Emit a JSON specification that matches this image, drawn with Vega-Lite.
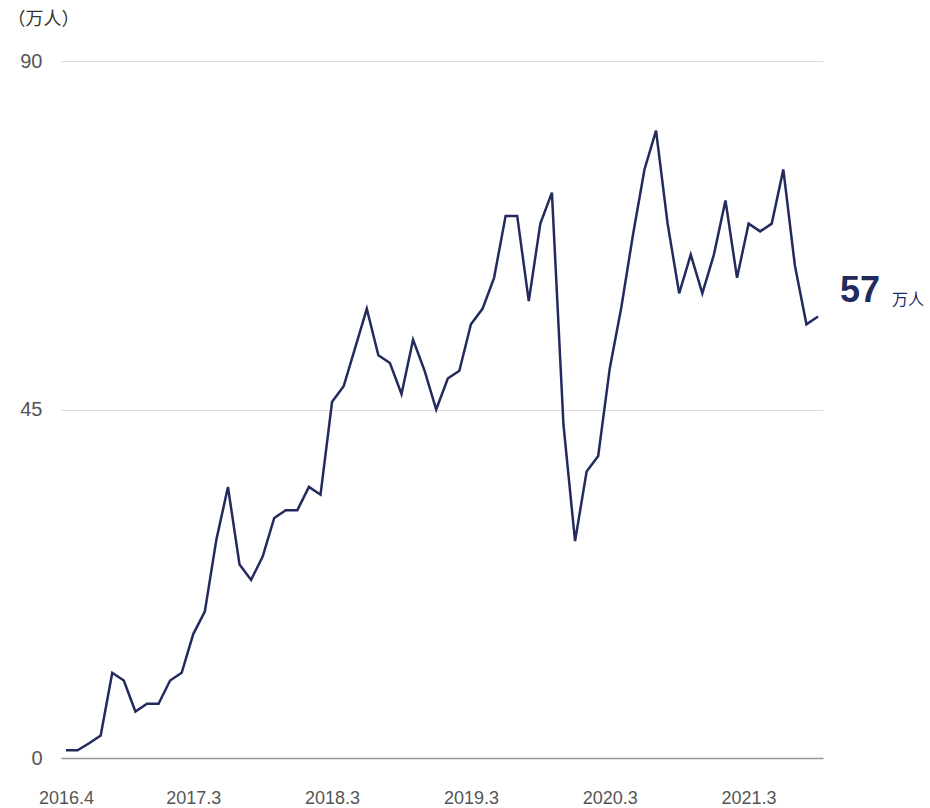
{
  "$schema": "https://vega.github.io/schema/vega-lite/v6.json",
  "width": 762,
  "height": 697,
  "autosize": "none",
  "padding": {"left": 61, "top": 61, "right": 107, "bottom": 50},
  "background": "white",
  "data": {
    "values": [
      {"month": "2016.4", "value": 1},
      {"month": "2016.5", "value": 1},
      {"month": "2016.6", "value": 1.9},
      {"month": "2016.7", "value": 2.9},
      {"month": "2016.8", "value": 11},
      {"month": "2016.9", "value": 10},
      {"month": "2016.10", "value": 6},
      {"month": "2016.11", "value": 7},
      {"month": "2016.12", "value": 7},
      {"month": "2017.1", "value": 10},
      {"month": "2017.2", "value": 11},
      {"month": "2017.3", "value": 16},
      {"month": "2017.4", "value": 18.9},
      {"month": "2017.5", "value": 28.2},
      {"month": "2017.6", "value": 35},
      {"month": "2017.7", "value": 25},
      {"month": "2017.8", "value": 23},
      {"month": "2017.9", "value": 26},
      {"month": "2017.10", "value": 31},
      {"month": "2017.11", "value": 32},
      {"month": "2017.12", "value": 32},
      {"month": "2018.1", "value": 35},
      {"month": "2018.2", "value": 34},
      {"month": "2018.3", "value": 46},
      {"month": "2018.4", "value": 48},
      {"month": "2018.5", "value": 53},
      {"month": "2018.6", "value": 58},
      {"month": "2018.7", "value": 52},
      {"month": "2018.8", "value": 51},
      {"month": "2018.9", "value": 47},
      {"month": "2018.10", "value": 54},
      {"month": "2018.11", "value": 50},
      {"month": "2018.12", "value": 45},
      {"month": "2019.1", "value": 49},
      {"month": "2019.2", "value": 50},
      {"month": "2019.3", "value": 56},
      {"month": "2019.4", "value": 58},
      {"month": "2019.5", "value": 62},
      {"month": "2019.6", "value": 70},
      {"month": "2019.7", "value": 70},
      {"month": "2019.8", "value": 59},
      {"month": "2019.9", "value": 69},
      {"month": "2019.10", "value": 73},
      {"month": "2019.11", "value": 43},
      {"month": "2019.12", "value": 28},
      {"month": "2020.1", "value": 37},
      {"month": "2020.2", "value": 39},
      {"month": "2020.3", "value": 50.3},
      {"month": "2020.4", "value": 58.2},
      {"month": "2020.5", "value": 67.5},
      {"month": "2020.6", "value": 76},
      {"month": "2020.7", "value": 81},
      {"month": "2020.8", "value": 69},
      {"month": "2020.9", "value": 60},
      {"month": "2020.10", "value": 65},
      {"month": "2020.11", "value": 60},
      {"month": "2020.12", "value": 65},
      {"month": "2021.1", "value": 72},
      {"month": "2021.2", "value": 62},
      {"month": "2021.3", "value": 69},
      {"month": "2021.4", "value": 68},
      {"month": "2021.5", "value": 69},
      {"month": "2021.6", "value": 76},
      {"month": "2021.7", "value": 63.6},
      {"month": "2021.8", "value": 56},
      {"month": "2021.9", "value": 57, "last": true}
    ]
  },
  "encoding": {
    "x": {
      "field": "month",
      "type": "ordinal",
      "sort": null,
      "scale": {"type": "point", "padding": 0.43},
      "axis": {
        "title": null,
        "values": ["2016.4", "2017.3", "2018.3", "2019.3", "2020.3", "2021.3"],
        "labelAngle": 0,
        "labelFontSize": 18,
        "labelColor": "#555555",
        "labelPadding": 31,
        "ticks": false,
        "domain": true,
        "domainColor": "#999999",
        "domainWidth": 1.5,
        "grid": false
      }
    },
    "y": {
      "field": "value",
      "type": "quantitative",
      "scale": {"domain": [0, 90], "nice": false},
      "axis": {
        "title": "（万人）",
        "titleAngle": 0,
        "titleAlign": "left",
        "titleBaseline": "middle",
        "titleX": -54,
        "titleY": -42,
        "titleFontSize": 18,
        "titleFontWeight": "normal",
        "titleColor": "#333333",
        "values": [0, 45, 90],
        "labelFontSize": 20,
        "labelColor": "#555555",
        "labelPadding": 19,
        "ticks": false,
        "domain": false,
        "grid": true,
        "gridColor": "#dddddd",
        "gridWidth": 1
      }
    }
  },
  "layer": [
    {
      "mark": {"type": "line", "color": "#222a5e", "strokeWidth": 2.5, "strokeJoin": "miter"}
    },
    {
      "transform": [{"filter": "datum.last"}],
      "mark": {
        "type": "text",
        "align": "left",
        "baseline": "alphabetic",
        "dx": 22,
        "dy": -15,
        "fontSize": 36,
        "fontWeight": "bold",
        "color": "#222a5e"
      },
      "encoding": {"text": {"field": "value", "type": "quantitative"}}
    },
    {
      "transform": [{"filter": "datum.last"}],
      "mark": {
        "type": "text",
        "align": "left",
        "baseline": "alphabetic",
        "dx": 74,
        "dy": -12,
        "fontSize": 16,
        "color": "#222a5e",
        "text": "万人"
      }
    }
  ],
  "config": {
    "view": {"stroke": null},
    "font": "Liberation Sans, Noto Sans CJK SC",
    "axis": {"labelFont": "Liberation Sans, Noto Sans CJK SC", "titleFont": "Liberation Sans, Noto Sans CJK SC"}
  }
}
